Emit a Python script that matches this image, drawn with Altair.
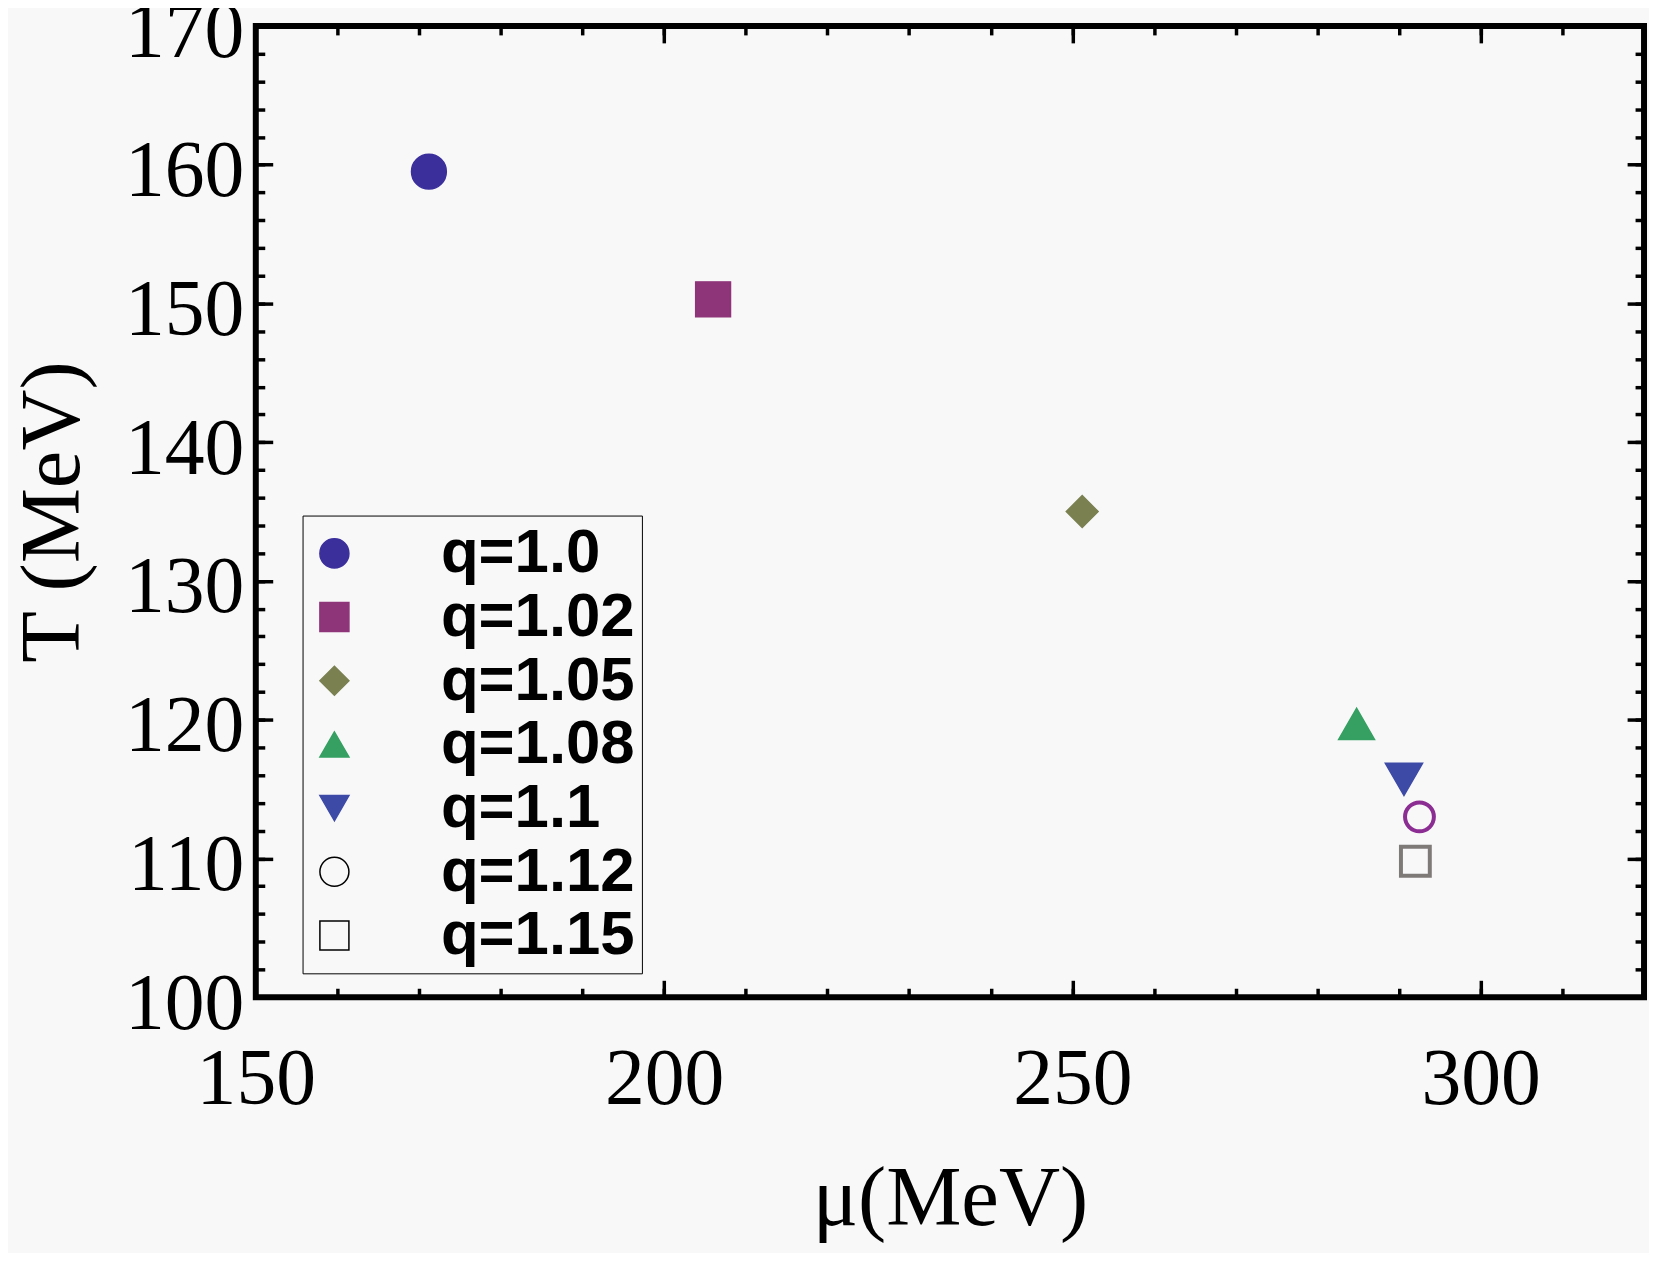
import altair as alt
import pandas as pd

q_labels = ["q=1.0", "q=1.02", "q=1.05", "q=1.08", "q=1.1", "q=1.12", "q=1.15"]
mu_values = [171.2, 206.0, 251.2, 284.8, 290.6, 292.5, 292.0]
T_values = [159.5, 150.3, 135.0, 119.7, 115.7, 113.0, 109.8]

x_major = [150, 200, 250, 300]
x_minor = list(range(150, 321, 10))
y_major = list(range(100, 171, 10))
y_minor = list(range(100, 171, 2))

df = pd.DataFrame({"q": q_labels, "mu": mu_values, "T": T_values,
                   "k": list(range(len(q_labels)))})

BG = "#f8f8f8"
W, H = 1395, 976
shapes = ["circle", "square", "diamond", "triangle-up", "triangle-down", "circle", "square"]
fills = ["#3b2f9c", "#8e3479", "#7b8051", "#35a062", "#3d4aa6", BG, BG]
strokes = ["#3b2f9c", "#8e3479", "#7b8051", "#35a062", "#3d4aa6", "black", "black"]
sizes = [1225, 1225, 1024, 1300, 1400, 841, 841]

xs = alt.Scale(domain=[150, 320], nice=False, zero=False)
ys = alt.Scale(domain=[100, 170], nice=False, zero=False)

serif = "Liberation Serif"

legend = alt.Legend(
    title=None, orient="none", legendX=47, legendY=492, direction="vertical",
    labelFont="Liberation Sans", labelFontWeight="bold", labelFontSize=62,
    labelColor="black", symbolSize=850, symbolStrokeWidth=1.5,
    labelOffset=76, rowPadding=2, padding=7, symbolOffset=-6,
    strokeColor="black", fillColor=BG, labelLimit=400,
)

base = alt.Chart(df)


def axis_layer(xaxis, yaxis):
    return base.mark_point(opacity=0).encode(
        x=alt.X("mu:Q", scale=xs, axis=xaxis),
        y=alt.Y("T:Q", scale=ys, axis=yaxis),
    )


tick_common = dict(labels=False, domain=False, grid=False, title=None,
                   tickColor="black", tickWidth=3.5)

label_layer = axis_layer(
    alt.Axis(orient="bottom", values=x_major, ticks=False, domain=False, grid=False,
             labelFont=serif, labelFontSize=80, labelColor="black", labelPadding=44,
             labelOverlap=False, labelBound=False, labelFlush=False,
             title="μ(MeV)", titleFont=serif, titleFontSize=85, titleFontWeight="normal",
             titleColor="black", titlePadding=38),
    alt.Axis(orient="left", values=y_major, ticks=False, domain=False, grid=False,
             labelFont=serif, labelFontSize=80, labelColor="black", labelPadding=12,
             labelOffset=7,
             labelOverlap=False, labelBound=False, labelFlush=False,
             title="T (MeV)", titleFont=serif, titleFontSize=85, titleFontWeight="normal",
             titleColor="black", titlePadding=28),
)

inner_minor_bl = axis_layer(
    alt.Axis(orient="top", offset=-H, values=x_minor, tickSize=9, **tick_common),
    alt.Axis(orient="right", offset=-W, values=y_minor, tickSize=9, **tick_common),
)
inner_major_bl = axis_layer(
    alt.Axis(orient="top", offset=-H, values=x_major, tickSize=17, **tick_common),
    alt.Axis(orient="right", offset=-W, values=y_major, tickSize=17, **tick_common),
)
inner_minor_tr = axis_layer(
    alt.Axis(orient="bottom", offset=-H, values=x_minor, tickSize=9, **tick_common),
    alt.Axis(orient="left", offset=-W, values=y_minor, tickSize=9, **tick_common),
)
inner_major_tr = axis_layer(
    alt.Axis(orient="bottom", offset=-H, values=x_major, tickSize=17, **tick_common),
    alt.Axis(orient="left", offset=-W, values=y_major, tickSize=17, **tick_common),
)

points = base.mark_point(opacity=1, strokeWidth=1.5).encode(
    x=alt.X("mu:Q", scale=xs, axis=None),
    y=alt.Y("T:Q", scale=ys, axis=None),
    shape=alt.Shape("q:N", scale=alt.Scale(domain=q_labels, range=shapes), legend=legend),
    fill=alt.Fill("q:N", scale=alt.Scale(domain=q_labels, range=fills), legend=legend),
    stroke=alt.Stroke("q:N", scale=alt.Scale(domain=q_labels, range=strokes), legend=legend),
    size=alt.Size("k:O", scale=alt.Scale(type="ordinal", range=sizes), legend=None),
)

hollow_circle = base.transform_filter(alt.datum.q == "q=1.12").mark_point(
    shape="circle", filled=False, fill=BG, stroke="#8b2d92", strokeWidth=4, size=841, opacity=1
).encode(x=alt.X("mu:Q", scale=xs, axis=None), y=alt.Y("T:Q", scale=ys, axis=None))

hollow_square = base.transform_filter(alt.datum.q == "q=1.15").mark_point(
    shape="square", filled=False, fill=BG, stroke="#7e7a78", strokeWidth=4, size=841, opacity=1
).encode(x=alt.X("mu:Q", scale=xs, axis=None), y=alt.Y("T:Q", scale=ys, axis=None))

chart = alt.layer(
    label_layer, inner_minor_bl, inner_major_bl, inner_minor_tr, inner_major_tr,
    points, hollow_circle, hollow_square,
).resolve_axis(x="independent", y="independent").properties(
    width=W, height=H,
    autosize=alt.AutoSizeParams(type="none"),
    padding={"left": 249, "top": 15, "right": 5, "bottom": 254},
    background=BG,
).configure_view(stroke="black", strokeWidth=6, fill=BG)

chart.save("out.html", embed_options={"renderer": "svg", "actions": False})
